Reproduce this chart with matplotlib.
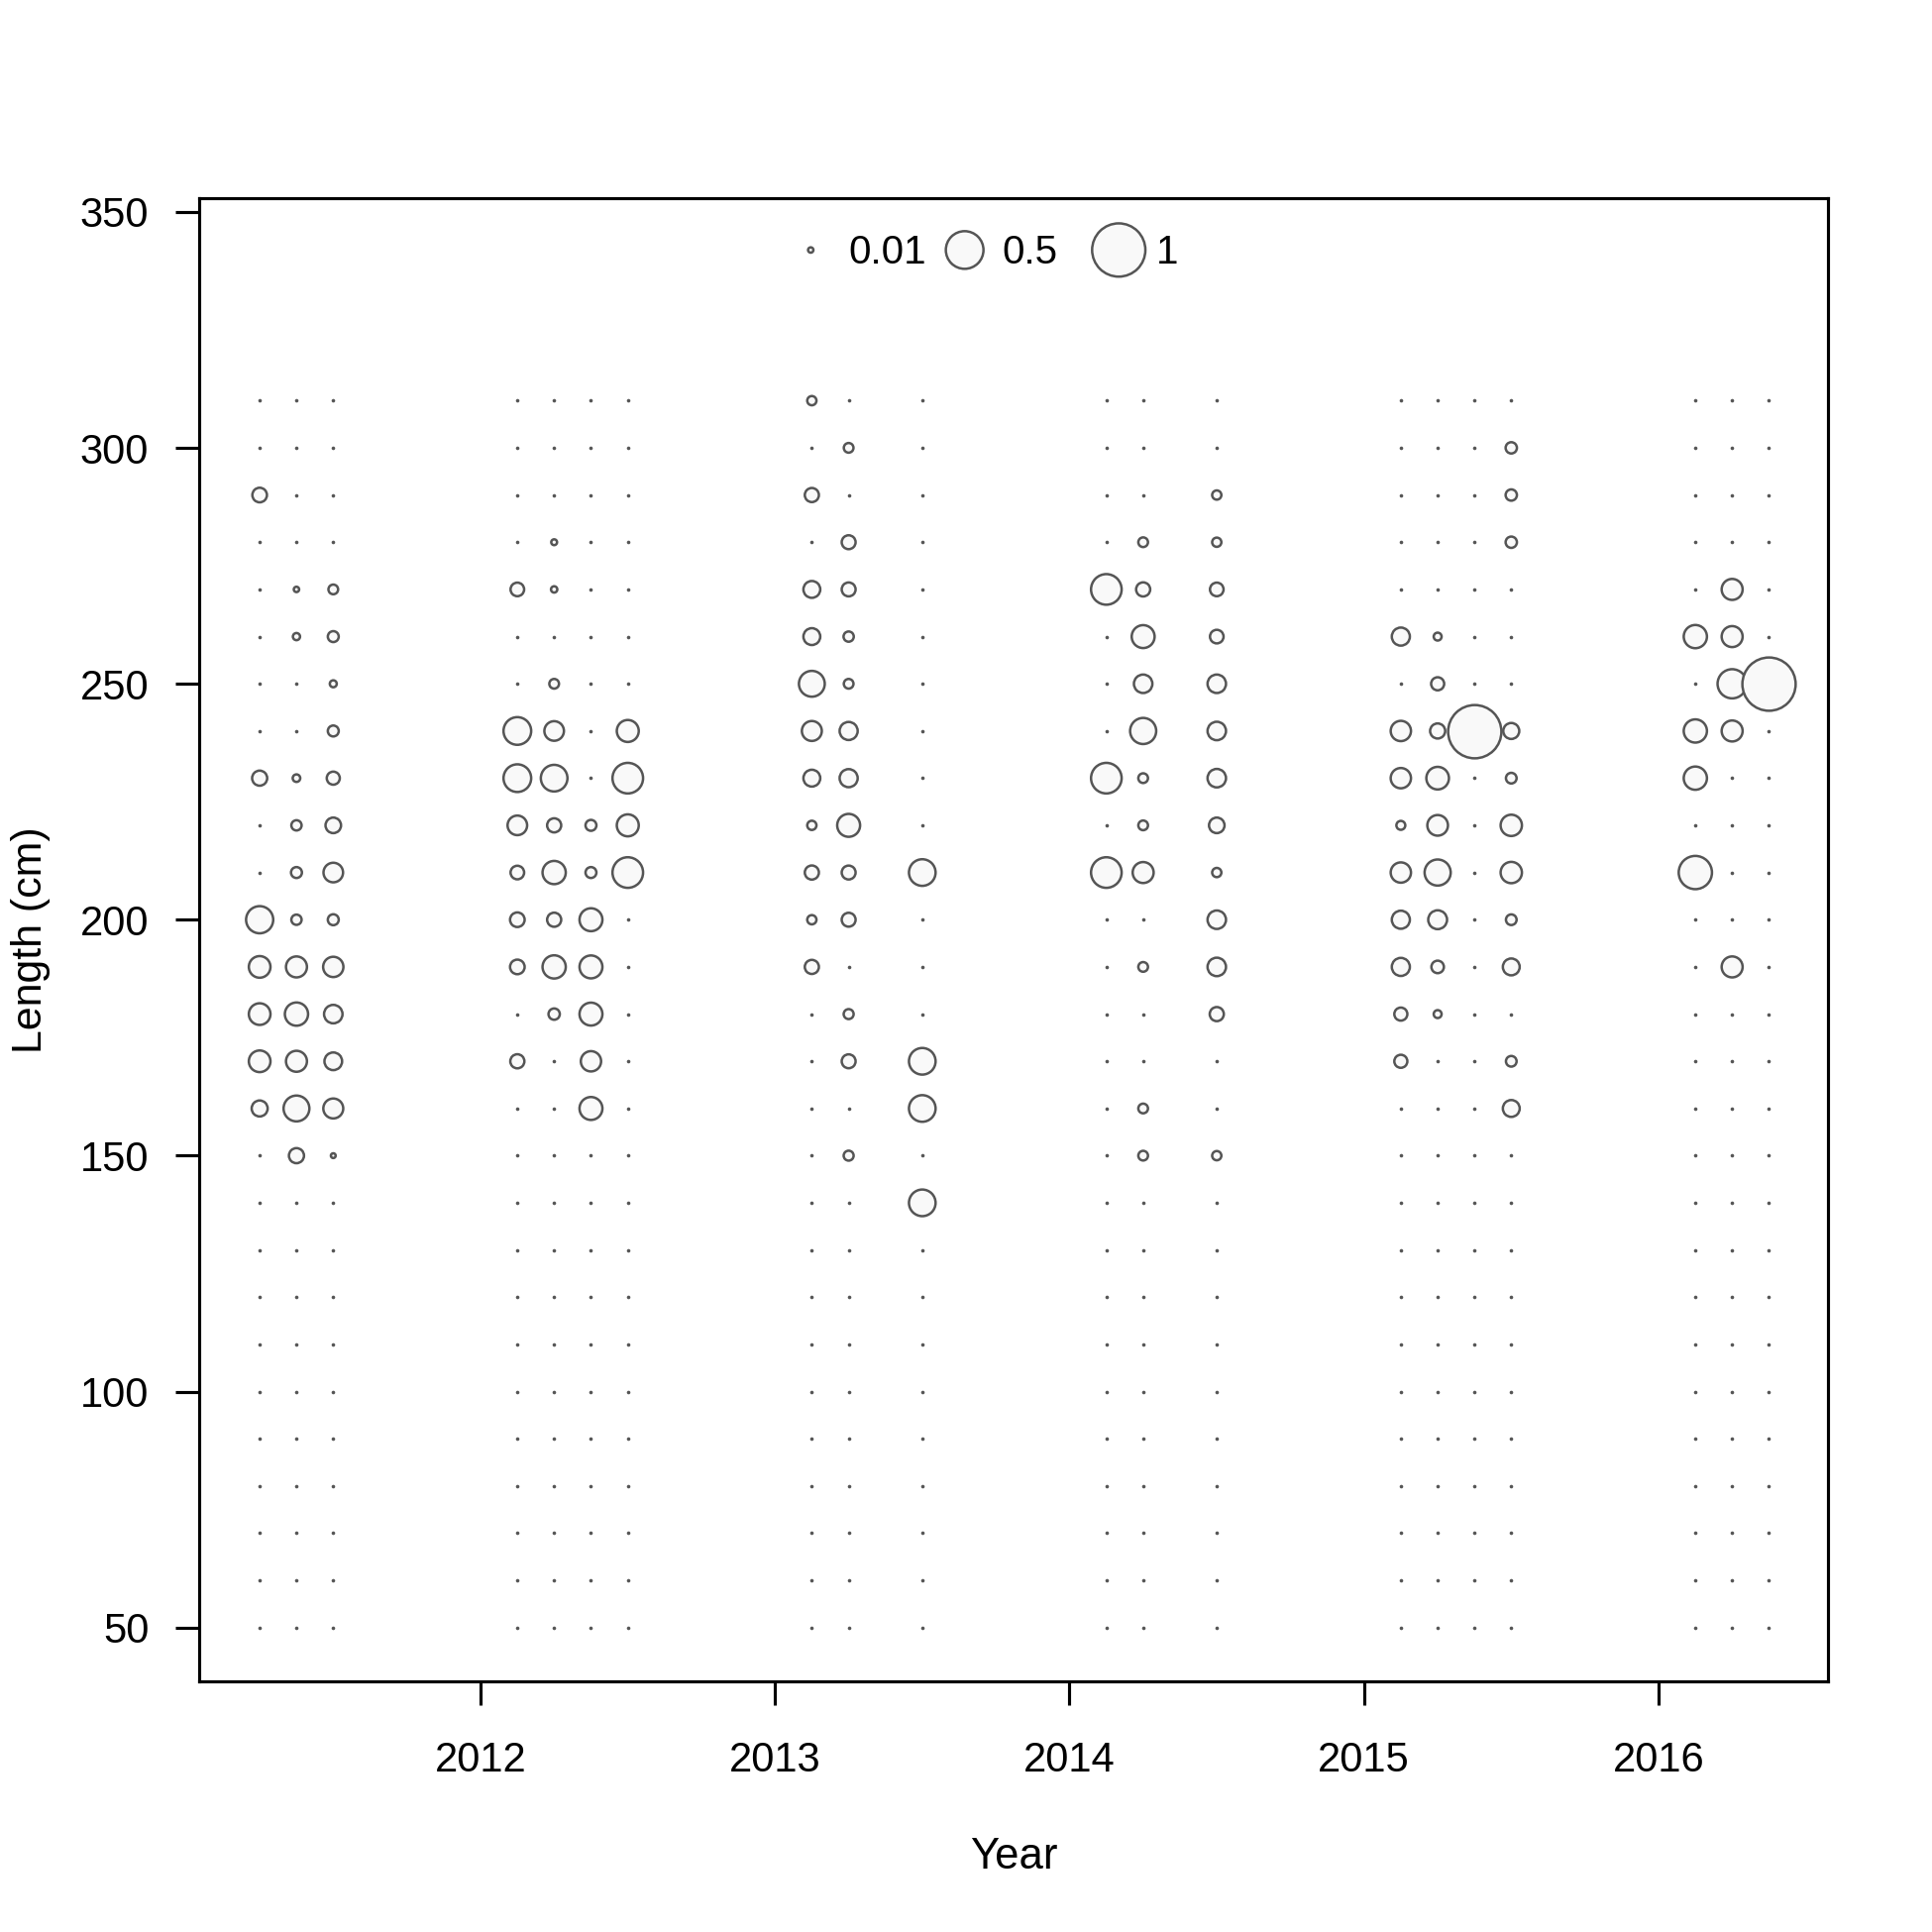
import matplotlib

matplotlib.use("Agg")
import matplotlib.pyplot as plt  # noqa: E402

plt.rcParams["font.family"] = ["Liberation Sans", "DejaVu Sans"]

# length bins (cm)
lengths = [50, 60, 70, 80, 90, 100, 110, 120, 130, 140, 150, 160, 170, 180,
           190, 200, 210, 220, 230, 240, 250, 260, 270, 280, 290, 300, 310]

# sample times (year + fraction) and non-zero proportions at length
times = [2011.25, 2011.375, 2011.5,
         2012.125, 2012.25, 2012.375, 2012.5,
         2013.125, 2013.25, 2013.5,
         2014.125, 2014.25, 2014.5,
         2015.125, 2015.25, 2015.375, 2015.5,
         2016.125, 2016.25, 2016.375]

props = [
    {290: 0.075, 230: 0.08, 200: 0.26, 190: 0.165, 180: 0.165, 170: 0.165, 160: 0.09},
    {270: 0.01, 260: 0.018, 230: 0.02, 220: 0.037, 210: 0.042, 200: 0.037,
     190: 0.155, 180: 0.19, 170: 0.155, 160: 0.235, 150: 0.08},
    {270: 0.033, 260: 0.042, 250: 0.017, 240: 0.042, 230: 0.06, 220: 0.085,
     210: 0.135, 200: 0.042, 190: 0.145, 180: 0.12, 170: 0.11, 160: 0.14, 150: 0.008},
    {270: 0.065, 240: 0.27, 230: 0.27, 220: 0.135, 210: 0.065, 200: 0.075,
     190: 0.075, 170: 0.07},
    {280: 0.012, 270: 0.014, 250: 0.033, 240: 0.135, 230: 0.25, 220: 0.07,
     210: 0.19, 200: 0.07, 190: 0.19, 180: 0.045},
    {220: 0.042, 210: 0.042, 200: 0.185, 190: 0.185, 180: 0.185, 170: 0.145, 160: 0.185},
    {240: 0.17, 230: 0.33, 220: 0.17, 210: 0.33},
    {310: 0.03, 290: 0.07, 270: 0.1, 260: 0.1, 250: 0.235, 240: 0.14, 230: 0.1,
     220: 0.03, 210: 0.07, 200: 0.03, 190: 0.07},
    {300: 0.033, 280: 0.068, 270: 0.068, 260: 0.037, 250: 0.033, 240: 0.115,
     230: 0.115, 220: 0.185, 210: 0.068, 200: 0.068, 180: 0.035, 170: 0.068, 150: 0.035},
    {210: 0.25, 170: 0.25, 160: 0.25, 140: 0.25},
    {270: 0.33, 230: 0.33, 210: 0.33},
    {280: 0.033, 270: 0.07, 260: 0.185, 250: 0.12, 240: 0.24, 230: 0.033,
     220: 0.033, 210: 0.155, 190: 0.033, 160: 0.033, 150: 0.033},
    {290: 0.03, 280: 0.03, 270: 0.065, 260: 0.065, 250: 0.12, 240: 0.12, 230: 0.12,
     220: 0.085, 210: 0.03, 200: 0.12, 190: 0.12, 180: 0.07, 150: 0.03},
    {260: 0.115, 240: 0.145, 230: 0.145, 220: 0.028, 210: 0.145, 200: 0.115,
     190: 0.115, 180: 0.06, 170: 0.06},
    {260: 0.022, 250: 0.06, 240: 0.08, 230: 0.18, 220: 0.15, 210: 0.24,
     200: 0.125, 190: 0.055, 180: 0.022},
    {240: 1.0},
    {300: 0.045, 290: 0.045, 280: 0.045, 240: 0.09, 230: 0.04, 220: 0.16,
     210: 0.16, 200: 0.04, 190: 0.1, 170: 0.04, 160: 0.1},
    {260: 0.19, 240: 0.19, 230: 0.19, 210: 0.39},
    {270: 0.155, 260: 0.155, 250: 0.3, 240: 0.155, 190: 0.155},
    {250: 1.0},
]

legend_vals = [0.01, 0.5, 1]
legend_labels = ["0.01", "0.5", "1"]

EDGE = "#555555"
FACE = "#f9f9f9"
DIAM = 12.9  # marker diameter (pt) of a bubble with proportion 1
FS = 10

fig = plt.figure(figsize=(6.5, 6.5), dpi=300)
ax = fig.add_axes([0.1033, 0.1295, 0.8431, 0.7679])

for t, col in zip(times, props):
    zx, zy, bx, by, bs = [], [], [], [], []
    for L in lengths:
        v = col.get(L, 0.0)
        if v > 0:
            bx.append(t)
            by.append(L)
            bs.append(DIAM ** 2 * v)
        else:
            zx.append(t)
            zy.append(L)
    ax.scatter(zx, zy, s=0.75, color=EDGE, linewidths=0, zorder=2)
    ax.scatter(bx, by, s=bs, facecolor=FACE, edgecolor=EDGE, linewidths=0.6, zorder=3)

# bubble key along the top, laid out like R's legend (axes-fraction positions)
key_mark_x = [0.3752, 0.4697, 0.5643]
key_text_x = [0.3986, 0.4924, 0.5870]
key_y = 0.9651
ax.scatter(key_mark_x, [key_y] * 3, s=[DIAM ** 2 * v for v in legend_vals],
           facecolor=FACE, edgecolor=EDGE, linewidths=0.6, transform=ax.transAxes,
           zorder=3, clip_on=False)
for x, lab in zip(key_text_x, legend_labels):
    ax.text(x, key_y - 0.0015, lab, transform=ax.transAxes, ha="left", va="center",
            fontsize=FS - 0.3)

ax.set_xlim(2011.046, 2016.577)
ax.set_ylim(38.5, 352.9)
ax.set_xticks([2012, 2013, 2014, 2015, 2016])
ax.set_yticks([50, 100, 150, 200, 250, 300, 350])
ax.tick_params(direction="out", length=5.8, width=0.75, labelsize=FS)
ax.tick_params(axis="x", pad=8.5)
ax.tick_params(axis="y", pad=6.5)
for s in ax.spines.values():
    s.set_linewidth(0.75)

fig.text(0.5249, 1 - 1875 / 1950, "Year", ha="center", va="center", fontsize=FS + 0.5)
fig.text(0.016, 0.5135, "Length (cm)", ha="center", va="center", rotation=90,
         fontsize=FS + 0.3)

fig.savefig("out.png", dpi=300, facecolor="white")
plt.close(fig)
